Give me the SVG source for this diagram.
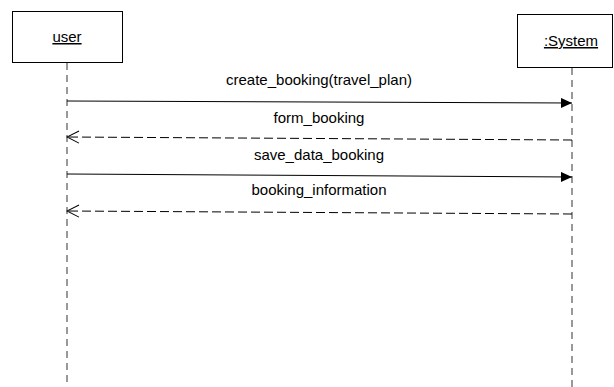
<svg xmlns="http://www.w3.org/2000/svg" width="614" height="387" viewBox="0 0 614 387">
<style>
text{font-family:"Liberation Sans",Arial,sans-serif;font-size:15px;fill:#000;text-anchor:middle}
.box{fill:#fff;stroke:#000;stroke-width:1}
.life{stroke:#555;stroke-width:1.2;stroke-dasharray:7,5;fill:none}
.call{stroke:#000;stroke-width:1;fill:none}
.ret{stroke:#000;stroke-width:1;fill:none;stroke-dasharray:9,4}
</style>
<defs>
<marker id="filled" markerWidth="12" markerHeight="10" refX="11" refY="5" orient="auto" markerUnits="userSpaceOnUse">
<path d="M0,0 L11,5 L0,10 Z" fill="#000"/>
</marker>
<marker id="open" markerWidth="14" markerHeight="14" refX="13" refY="7" orient="auto" markerUnits="userSpaceOnUse">
<path d="M1,1 L13,7 L1,13" fill="none" stroke="#000" stroke-width="1"/>
</marker>
</defs>
<g id="user">
<rect class="box" x="12.5" y="11.5" width="110" height="51"/>
<text x="67" y="42" text-decoration="underline">user</text>
<line class="life" x1="67" y1="63" x2="67" y2="387"/>
</g>
<g id="system">
<rect class="box" x="517.5" y="14.5" width="95" height="53"/>
<text x="571" y="46" text-decoration="underline">:System</text>
<line class="life" x1="572" y1="68" x2="572" y2="387"/>
</g>
<g id="connectors">
<line class="call" x1="67" y1="101" x2="572" y2="103" marker-end="url(#filled)"/>
<text x="319" y="85">create_booking(travel_plan)</text>
<line class="ret" x1="572" y1="140" x2="67" y2="137" marker-end="url(#open)"/>
<text x="319" y="123">form_booking</text>
<line class="call" x1="67" y1="174" x2="572" y2="177" marker-end="url(#filled)"/>
<text x="319" y="160">save_data_booking</text>
<line class="ret" x1="572" y1="214" x2="67" y2="211" marker-end="url(#open)"/>
<text x="319" y="195">booking_information</text>
</g>
</svg>
